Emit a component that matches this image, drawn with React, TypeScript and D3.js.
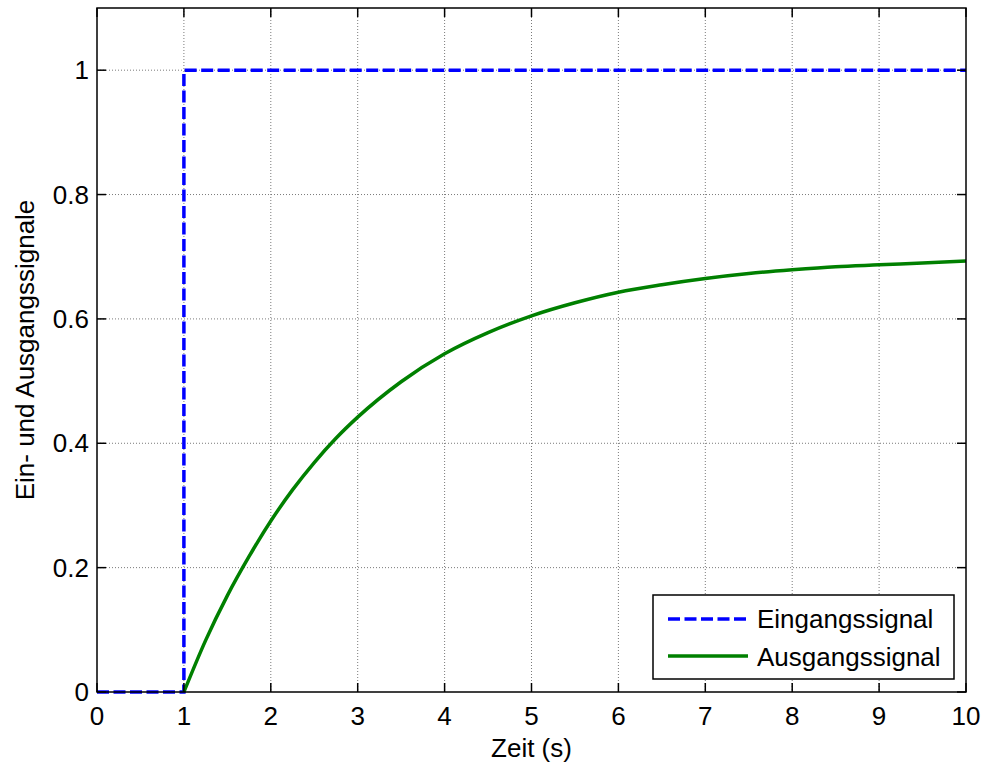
import React from "react";
import * as d3 from "d3";

// Eingangssignal (Sprung bei t = 1 s)
const inputTime = [0, 1, 1, 10];
const inputValue = [0, 0, 1, 1];

// Ausgangssignal
const outputTime = [1, 1.25, 1.5, 1.75, 2, 2.25, 2.5, 2.75, 3, 3.5, 4, 4.5, 5, 5.5, 6, 6.5, 7, 7.5, 8, 8.5, 9, 9.5, 10];
const outputValue = [0, 0.083, 0.155, 0.218, 0.275, 0.325, 0.369, 0.408, 0.442, 0.499, 0.544, 0.578, 0.605, 0.626, 0.643, 0.655, 0.665, 0.673, 0.679, 0.684, 0.687, 0.69, 0.693];

const xTicks = [0, 1, 2, 3, 4, 5, 6, 7, 8, 9, 10];
const yTicks = [0, 0.2, 0.4, 0.6, 0.8, 1];
const seriesNames = ["Eingangssignal", "Ausgangssignal"];

const width = 984;
const height = 765;
const margin = { top: 8, right: 18, bottom: 73, left: 97 };
const font = "'Liberation Sans', Arial, Helvetica, sans-serif";
const fs = 26;

export default function App() {
  const x = d3.scaleLinear().domain([0, 10]).range([margin.left, width - margin.right]);
  const y = d3.scaleLinear().domain([0, 1.1]).range([height - margin.bottom, margin.top]);

  const inputLine = d3
    .line<[number, number]>()
    .x((d) => x(d[0]))
    .y((d) => y(d[1]));
  const outputLine = d3
    .line<[number, number]>()
    .x((d) => x(d[0]))
    .y((d) => y(d[1]))
    .curve(d3.curveMonotoneX);

  const inputPts = inputTime.map((t, i) => [t, inputValue[i]] as [number, number]);
  const outputPts = outputTime.map((t, i) => [t, outputValue[i]] as [number, number]);

  const x0 = x(0), x1 = x(10), y0 = y(0), yTop = margin.top;
  const tickLen = 9;

  // legend box
  const lg = { x: 653, y: 595, w: 301, h: 84 };

  return (
    <svg
      width={width}
      height={height}
      style={{ position: "absolute", left: 0, top: 0, background: "#fff" }}
      fontFamily={font}
    >
      <rect x={0} y={0} width={width} height={height} fill="#fff" />

      {/* grid */}
      <g stroke="#7a7a7a" strokeWidth={1} strokeDasharray="1,2">
        {xTicks.slice(1, -1).map((t) => (
          <line key={"gx" + t} x1={x(t)} x2={x(t)} y1={yTop} y2={y0} />
        ))}
        {yTicks.slice(1).map((t) => (
          <line key={"gy" + t} x1={x0} x2={x1} y1={y(t)} y2={y(t)} />
        ))}
      </g>

      {/* curves */}
      <path
        d={inputLine(inputPts) || ""}
        fill="none"
        stroke="#0000ff"
        strokeWidth={3.5}
        strokeDasharray="12,4.5"
      />
      <path
        d={outputLine(outputPts) || ""}
        fill="none"
        stroke="#008000"
        strokeWidth={3.5}
        strokeLinejoin="round"
      />

      {/* tick marks */}
      <g stroke="#000" strokeWidth={1.5}>
        {xTicks.map((t) => (
          <g key={"tx" + t}>
            <line x1={x(t)} x2={x(t)} y1={y0} y2={y0 - tickLen} />
            <line x1={x(t)} x2={x(t)} y1={yTop} y2={yTop + tickLen} />
          </g>
        ))}
        {yTicks.map((t) => (
          <g key={"ty" + t}>
            <line x1={x0} x2={x0 + tickLen} y1={y(t)} y2={y(t)} />
            <line x1={x1} x2={x1 - tickLen} y1={y(t)} y2={y(t)} />
          </g>
        ))}
      </g>

      {/* axes box */}
      <rect x={x0} y={yTop} width={x1 - x0} height={y0 - yTop} fill="none" stroke="#000" strokeWidth={1.5} />

      {/* tick labels */}
      <g fontSize={fs} fill="#000">
        {xTicks.map((t) => (
          <text key={"lx" + t} x={x(t)} y={y0 + 33} textAnchor="middle">
            {t}
          </text>
        ))}
        {yTicks.map((t) => (
          <text key={"ly" + t} x={x0 - 8} y={y(t)} dy="0.35em" textAnchor="end">
            {t}
          </text>
        ))}
      </g>

      {/* axis labels */}
      <text x={(x0 + x1) / 2} y={757} fontSize={fs} textAnchor="middle">
        Zeit (s)
      </text>
      <text
        transform={`translate(34,${(yTop + y0) / 2}) rotate(-90)`}
        fontSize={fs}
        textAnchor="middle"
      >
        Ein- und Ausgangssignale
      </text>

      {/* legend */}
      <g>
        <rect x={lg.x} y={lg.y} width={lg.w} height={lg.h} fill="#fff" stroke="#000" strokeWidth={1.5} />
        <line x1={668} x2={748} y1={619} y2={619} stroke="#0000ff" strokeWidth={3.5} strokeDasharray="12,4.5" />
        <line x1={668} x2={748} y1={656} y2={656} stroke="#008000" strokeWidth={3.5} />
        <text x={757} y={628} fontSize={fs}>{seriesNames[0]}</text>
        <text x={757} y={666} fontSize={fs}>{seriesNames[1]}</text>
      </g>
    </svg>
  );
}
